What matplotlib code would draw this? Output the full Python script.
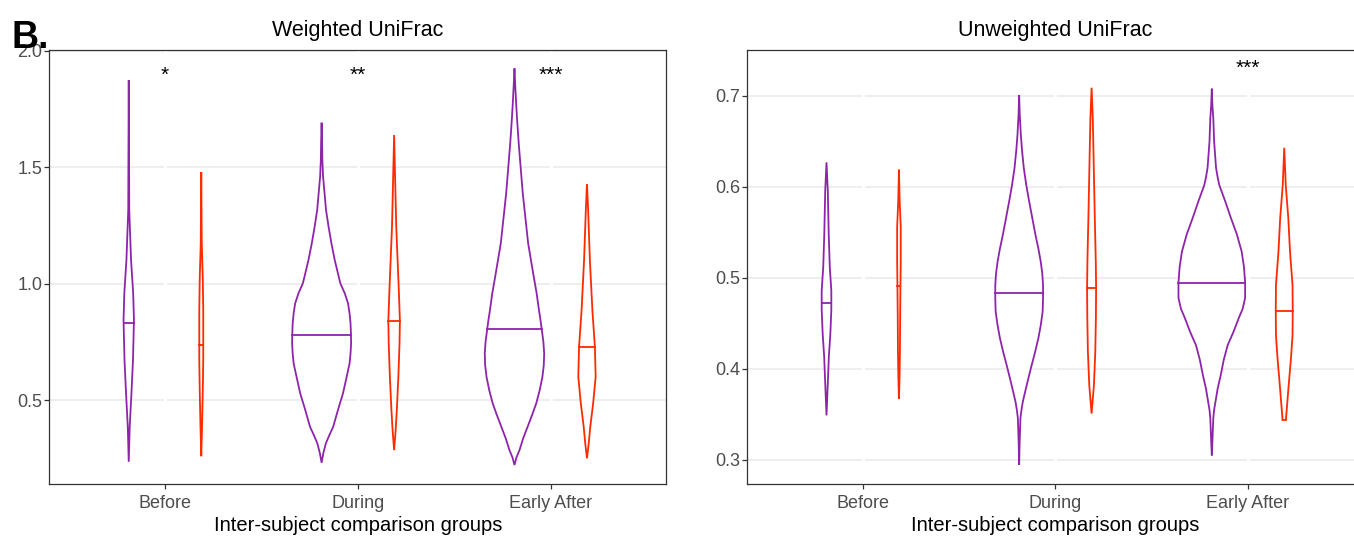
import numpy as np
import matplotlib.pyplot as plt

plt.rcParams['font.family'] = ['Liberation Sans', 'DejaVu Sans']

groups = ['Before', 'During', 'Early After']
purple = '#8E24AA'
red = '#FF2A00'

# Weighted UniFrac - violin outlines (y value, half width in x units)
w_before_p_y = [1.874, 1.316, 1.102, 0.959, 0.844, 0.673, 0.530, 0.386, 0.236]
w_before_p_w = [0.0, 0.0026, 0.012, 0.023, 0.027, 0.022, 0.014, 0.005, 0.0]
w_before_r_y = [1.479, 1.173, 1.030, 0.887, 0.673, 0.530, 0.386, 0.260]
w_before_r_w = [0.0, 0.0026, 0.0077, 0.0103, 0.0103, 0.0077, 0.004, 0.0]
w_during_p_y = [1.691, 1.603, 1.530, 1.459, 1.316, 1.245, 1.173, 1.102, 1.002, 0.959,
                0.916, 0.873, 0.830, 0.787, 0.744, 0.701, 0.658, 0.601, 0.530, 0.459,
                0.386, 0.350, 0.315, 0.272, 0.232]
w_during_p_w = [0.0, 0.0026, 0.004, 0.0077, 0.023, 0.036, 0.051, 0.068, 0.097, 0.120,
                0.137, 0.145, 0.150, 0.152, 0.153, 0.150, 0.145, 0.130, 0.111, 0.085,
                0.060, 0.040, 0.022, 0.0087, 0.0]
w_during_r_y = [1.638, 1.459, 1.245, 1.102, 0.959, 0.841, 0.744, 0.601, 0.459, 0.372, 0.286]
w_during_r_w = [0.0, 0.005, 0.011, 0.018, 0.025, 0.030, 0.028, 0.022, 0.014, 0.008, 0.0]
w_after_p_y = [1.924, 1.850, 1.774, 1.700, 1.603, 1.500, 1.388, 1.173, 1.030, 0.959,
               0.887, 0.844, 0.807, 0.750, 0.701, 0.650, 0.601, 0.544, 0.487, 0.436,
               0.386, 0.336, 0.286, 0.254, 0.222]
w_after_p_w = [0.0, 0.004, 0.0087, 0.014, 0.022, 0.032, 0.043, 0.071, 0.100, 0.115,
               0.127, 0.135, 0.141, 0.150, 0.154, 0.152, 0.145, 0.131, 0.113, 0.091,
               0.068, 0.045, 0.026, 0.010, 0.0]
w_after_r_y = [1.428, 1.316, 1.102, 0.887, 0.730, 0.601, 0.487, 0.386, 0.315, 0.251]
w_after_r_w = [0.0, 0.006, 0.015, 0.028, 0.041, 0.045, 0.032, 0.017, 0.009, 0.0]
w_median_p = [0.833, 0.780, 0.807]
w_median_r = [0.737, 0.841, 0.730]
w_stars = ['*', '**', '***']

# Unweighted UniFrac
u_before_p_y = [0.627, 0.596, 0.549, 0.512, 0.486, 0.472, 0.465, 0.439, 0.413, 0.384, 0.349]
u_before_p_w = [0.0, 0.0067, 0.0114, 0.017, 0.025, 0.025, 0.025, 0.020, 0.012, 0.0067, 0.0]
u_before_r_y = [0.619, 0.585, 0.556, 0.519, 0.491, 0.457, 0.421, 0.391, 0.367]
u_before_r_w = [0.0, 0.0036, 0.0093, 0.0093, 0.0078, 0.0062, 0.0052, 0.0031, 0.0]
u_during_p_y = [0.701, 0.680, 0.657, 0.640, 0.621, 0.602, 0.584, 0.566, 0.547, 0.532,
                0.518, 0.505, 0.492, 0.478, 0.463, 0.448, 0.434, 0.418, 0.401, 0.383,
                0.364, 0.355, 0.346, 0.320, 0.2945]
u_during_p_w = [0.0, 0.003, 0.0088, 0.015, 0.024, 0.037, 0.052, 0.068, 0.085, 0.100,
                0.112, 0.120, 0.124, 0.124, 0.122, 0.112, 0.100, 0.082, 0.061, 0.040,
                0.019, 0.012, 0.0067, 0.0026, 0.0]
u_during_r_y = [0.709, 0.6755, 0.621, 0.566, 0.518, 0.489, 0.456, 0.419, 0.382, 0.351]
u_during_r_w = [0.0, 0.0062, 0.0114, 0.0166, 0.0218, 0.0234, 0.0223, 0.0192, 0.012, 0.0]
u_after_p_y = [0.708, 0.690, 0.6755, 0.650, 0.621, 0.611, 0.602, 0.584, 0.566, 0.548,
               0.529, 0.512, 0.495, 0.478, 0.466, 0.456, 0.441, 0.426, 0.410, 0.393,
               0.378, 0.364, 0.355, 0.346, 0.325, 0.305]
u_after_p_w = [0.0, 0.003, 0.0078, 0.012, 0.022, 0.030, 0.039, 0.070, 0.099, 0.130,
               0.155, 0.167, 0.173, 0.173, 0.160, 0.140, 0.113, 0.082, 0.062, 0.046,
               0.030, 0.019, 0.012, 0.0078, 0.004, 0.0]
u_after_r_y = [0.643, 0.602, 0.566, 0.529, 0.492, 0.464, 0.437, 0.412, 0.382, 0.346, 0.344]
u_after_r_w = [0.0, 0.0078, 0.021, 0.030, 0.043, 0.044, 0.043, 0.035, 0.023, 0.0093, 0.0093]
u_median_p = [0.472, 0.484, 0.495]
u_median_r = [0.491, 0.489, 0.464]
u_stars = ['', '', '***']

dodge = 0.188


def violin(ax, xc, ys, ws, med, color):
    ys = np.array(ys)
    ws = np.array(ws)
    xs = np.concatenate([xc + ws, (xc - ws)[::-1]])
    yy = np.concatenate([ys, ys[::-1]])
    ax.fill(xs, yy, facecolor='white', edgecolor=color, lw=1.3, zorder=3)
    hw = np.interp(med, ys[::-1], ws[::-1])
    ax.plot([xc - hw, xc + hw], [med, med], color=color, lw=1.3, zorder=4)


def style(ax, title, yticks, ylim):
    ax.set_xlim(0.4, 3.6)
    ax.set_ylim(*ylim)
    ax.set_xticks([1, 2, 3], groups)
    ax.set_yticks(yticks, [f'{t:.1f}' for t in yticks])
    for t in yticks:
        ax.axhline(t, color='#EBEBEB', lw=1.2, zorder=0.5)
    for x in [1, 2, 3]:
        ax.axvline(x, color='white', lw=2.2, zorder=0.6)
    for s in ax.spines.values():
        s.set_color('#333333')
        s.set_linewidth(0.9)
    ax.tick_params(length=3.5, width=0.9, color='#333333', labelcolor='#4D4D4D',
                   labelsize=13)
    ax.tick_params(axis='x', pad=4)
    ax.tick_params(axis='y', pad=1.5)
    ax.set_title(title, fontsize=15.5, pad=10)
    ax.set_xlabel('Inter-subject comparison groups', fontsize=14.5, labelpad=3)


fig = plt.figure(figsize=(13.54, 5.39), dpi=100)
ax1 = fig.add_axes([0.0364, 0.1015, 0.4558, 0.8058])
ax2 = fig.add_axes([0.5518, 0.1015, 0.4553, 0.8058])

w_p = [(w_before_p_y, w_before_p_w), (w_during_p_y, w_during_p_w), (w_after_p_y, w_after_p_w)]
w_r = [(w_before_r_y, w_before_r_w), (w_during_r_y, w_during_r_w), (w_after_r_y, w_after_r_w)]
u_p = [(u_before_p_y, u_before_p_w), (u_during_p_y, u_during_p_w), (u_after_p_y, u_after_p_w)]
u_r = [(u_before_r_y, u_before_r_w), (u_during_r_y, u_during_r_w), (u_after_r_y, u_after_r_w)]

for i in range(3):
    violin(ax1, i + 1 - dodge, *w_p[i], w_median_p[i], purple)
    violin(ax1, i + 1 + dodge, *w_r[i], w_median_r[i], red)
    violin(ax2, i + 1 - dodge, *u_p[i], u_median_p[i], purple)
    violin(ax2, i + 1 + dodge, *u_r[i], u_median_r[i], red)
    ax1.text(i + 1, 1.935, w_stars[i], ha='center', va='top', fontsize=15)
    ax2.text(i + 1, 0.741, u_stars[i], ha='center', va='top', fontsize=15)

style(ax1, 'Weighted UniFrac', [0.5, 1.0, 1.5, 2.0], (0.1395, 2.003))
style(ax2, 'Unweighted UniFrac', [0.3, 0.4, 0.5, 0.6, 0.7], (0.2733, 0.7505))

fig.text(12 / 1354, 1 - 48 / 539, 'B.', fontsize=27, fontweight='bold', va='baseline')

fig.savefig('out.png', dpi=100)
